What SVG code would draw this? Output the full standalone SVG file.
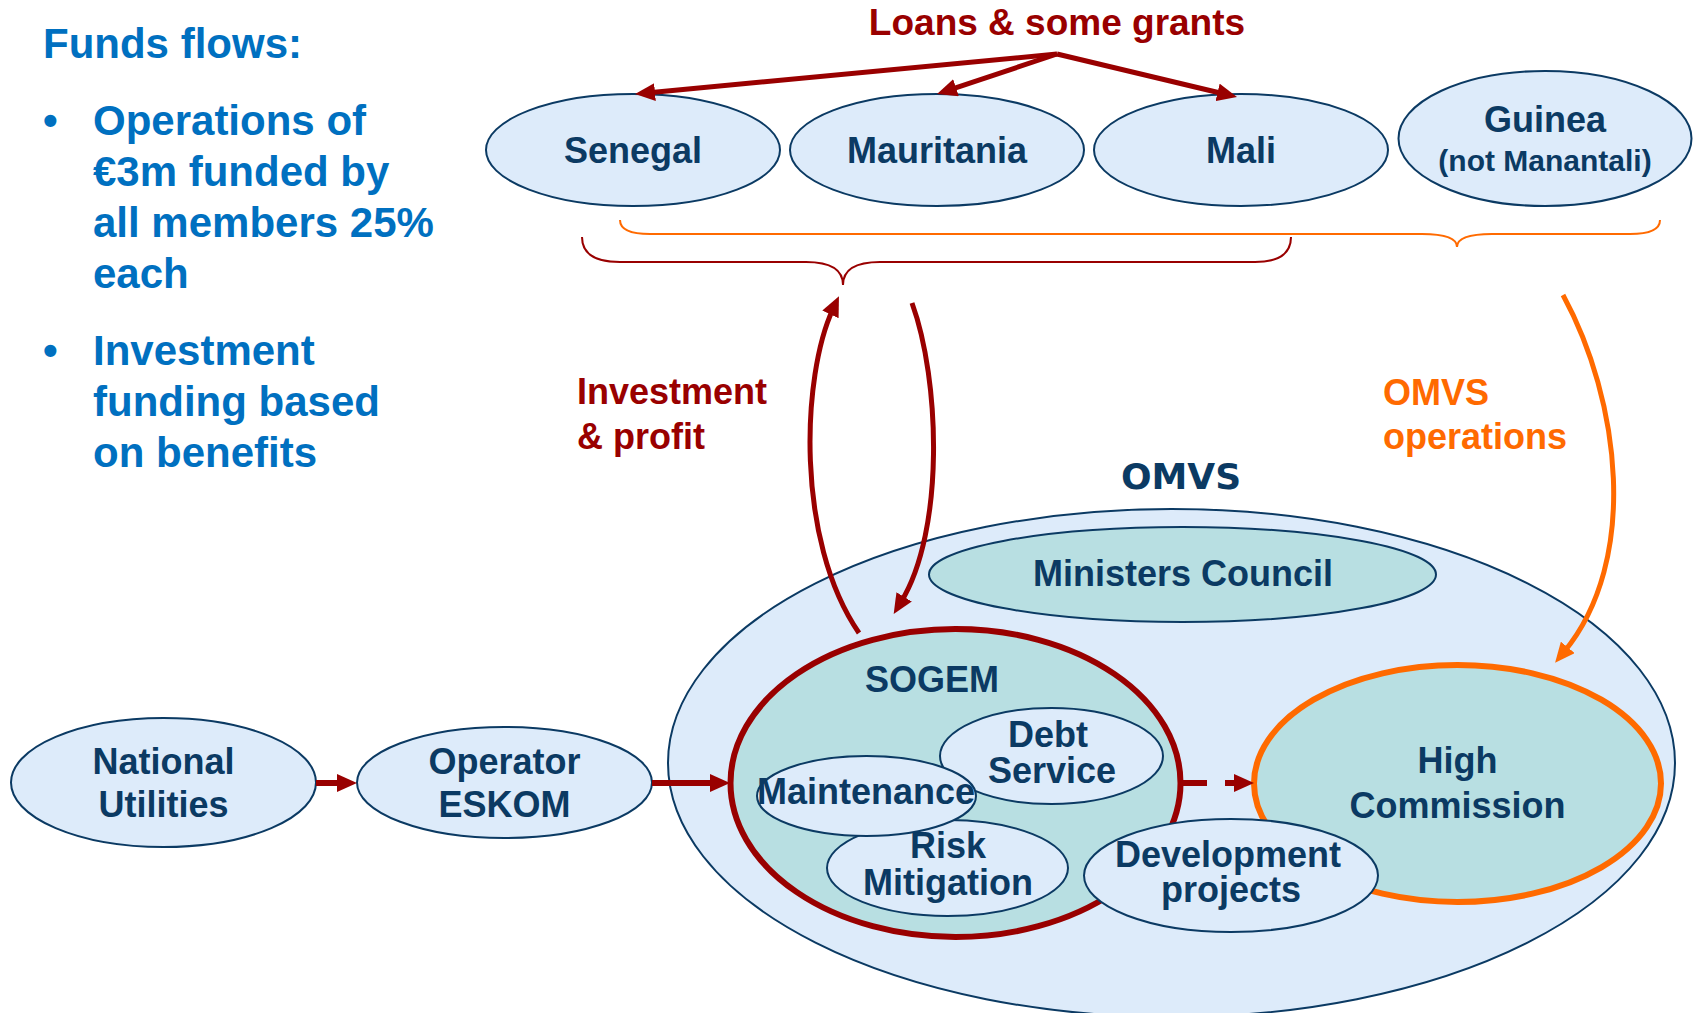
<svg xmlns="http://www.w3.org/2000/svg" width="1698" height="1013" viewBox="0 0 1698 1013">
<style>
  text { font-family: "Liberation Sans", Arial, sans-serif; font-weight: bold; }
  .side { fill: #0070C0; font-size: 42px; }
  .nt { fill: #0B3A63; font-size: 36px; text-anchor: middle; }
  .blue { fill: #DDEBFA; stroke: #0B3A63; stroke-width: 2; }
  .teal { fill: #B8DFE2; stroke: #0B3A63; stroke-width: 2; }
  .red { fill: #990000; font-size: 36px; }
  .org { fill: #FF6A00; font-size: 36px; }
  .rl { fill: none; stroke: #990000; }
  .ol { fill: none; stroke: #FF6A00; }
</style>
<defs>
  <marker id="ahRed" markerUnits="userSpaceOnUse" markerWidth="20" markerHeight="18" refX="6" refY="9" orient="auto">
    <path d="M0,0 L20,9 L0,18 z" fill="#990000"/>
  </marker>
  <marker id="ahRedS" markerUnits="userSpaceOnUse" markerWidth="20" markerHeight="18" refX="6" refY="9" orient="auto">
    <path d="M0,0 L20,9 L0,18 z" fill="#990000"/>
  </marker>
  <marker id="ahOrg" markerUnits="userSpaceOnUse" markerWidth="20" markerHeight="18" refX="6" refY="9" orient="auto">
    <path d="M0,0 L20,9 L0,18 z" fill="#FF6A00"/>
  </marker>
</defs>

<g id="funds-text">
  <text class="side" x="43" y="58">Funds flows:</text>
  <text class="side" x="43" y="135">•</text>
  <text class="side" x="93" y="135">Operations of</text>
  <text class="side" x="93" y="186">€3m funded by</text>
  <text class="side" x="93" y="237">all members 25%</text>
  <text class="side" x="93" y="288">each</text>
  <text class="side" x="43" y="365">•</text>
  <text class="side" x="93" y="365">Investment</text>
  <text class="side" x="93" y="416">funding based</text>
  <text class="side" x="93" y="467">on benefits</text>
</g>

<g id="label-loans"><text class="red" x="1057" y="35" text-anchor="middle" style="font-size:37px">Loans &amp; some grants</text></g>
<g id="label-investment">
  <text class="red" x="577" y="404">Investment</text>
  <text class="red" x="577" y="449">&amp; profit</text>
</g>
<g id="label-operations">
  <text class="org" x="1383" y="405">OMVS</text>
  <text class="org" x="1383" y="449">operations</text>
</g>

<g id="senegal"><ellipse class="blue" cx="633" cy="150" rx="147" ry="56"/><text class="nt" x="633" y="163">Senegal</text></g>
<g id="mauritania"><ellipse class="blue" cx="937" cy="150" rx="147" ry="56"/><text class="nt" x="937" y="163">Mauritania</text></g>
<g id="mali"><ellipse class="blue" cx="1241" cy="150" rx="147" ry="56"/><text class="nt" x="1241" y="163">Mali</text></g>
<g id="guinea"><ellipse class="blue" cx="1545" cy="138.5" rx="146.5" ry="67.5"/><text class="nt" x="1545" y="132">Guinea</text><text class="nt" x="1545" y="171" style="font-size:30px">(not Manantali)</text></g>

<g id="braces">
  <path class="ol" stroke-width="2" d="M620,220 Q620,234 650,234 L1422,234 Q1457,234 1457,247 Q1457,234 1492,234 L1630,234 Q1660,234 1660,220"/>
  <path class="rl" stroke-width="2" d="M582,237 Q582,262 620,262 L806,262 Q843,262 843,285 Q843,262 880,262 L1255,262 Q1291,262 1291,237"/>
</g>

<g id="omvs">
  <ellipse class="blue" cx="1171.5" cy="763" rx="503.5" ry="254" stroke-width="1.5"/>
  <text x="1181" y="489" text-anchor="middle" style="font-family:'DejaVu Sans',Verdana,sans-serif;font-size:36px;fill:#0B3A63">OMVS</text>
</g>
<g id="ministers-council"><ellipse class="teal" cx="1182.5" cy="574.5" rx="253.5" ry="47.5"/><text class="nt" x="1183" y="586">Ministers Council</text></g>
<g id="sogem"><ellipse cx="955.5" cy="783" rx="225" ry="154" fill="#B8DFE2" stroke="#990000" stroke-width="6"/><text class="nt" x="932" y="692">SOGEM</text></g>
<g id="debt-service"><ellipse class="blue" cx="1051.5" cy="756" rx="111.5" ry="48"/><text class="nt" x="1048" y="747">Debt</text><text class="nt" x="1052" y="783">Service</text></g>
<g id="risk-mitigation"><ellipse class="blue" cx="947.5" cy="868" rx="120.5" ry="48"/><text class="nt" x="948" y="858">Risk</text><text class="nt" x="948" y="895">Mitigation</text></g>
<g id="maintenance"><ellipse class="blue" cx="866.5" cy="796" rx="109.5" ry="40"/><text class="nt" x="866" y="804">Maintenance</text></g>
<g id="high-commission"><ellipse cx="1457.5" cy="783.5" rx="203.5" ry="118.5" fill="#B8DFE2" stroke="#FF6A00" stroke-width="6"/><text class="nt" x="1457.5" y="773">High</text><text class="nt" x="1457.5" y="818">Commission</text></g>
<g id="development-projects"><ellipse class="blue" cx="1231" cy="875.5" rx="147" ry="56.5"/><text class="nt" x="1228" y="867">Development</text><text class="nt" x="1231" y="902">projects</text></g>
<g id="national-utilities"><ellipse class="blue" cx="163.5" cy="782.5" rx="152.5" ry="64.5"/><text class="nt" x="163.5" y="774">National</text><text class="nt" x="163.5" y="817">Utilities</text></g>
<g id="operator-eskom"><ellipse class="blue" cx="504.5" cy="782.5" rx="147.5" ry="55.5"/><text class="nt" x="504.5" y="774">Operator</text><text class="nt" x="504.5" y="817">ESKOM</text></g>

<g id="connectors">
  <line class="rl" stroke-width="5" x1="1057" y1="54" x2="649" y2="92.7" marker-end="url(#ahRed)"/>
  <line class="rl" stroke-width="5" x1="1057" y1="54" x2="950.3" y2="89.6" marker-end="url(#ahRed)"/>
  <line class="rl" stroke-width="5" x1="1057" y1="54" x2="1223.4" y2="93.8" marker-end="url(#ahRed)"/>
  <path class="rl" stroke-width="5" d="M859,633 C795,540 802,375 833,309" marker-end="url(#ahRedS)"/>
  <path class="rl" stroke-width="5" d="M912,303 C940,380 945,530 901,602" marker-end="url(#ahRedS)"/>
  <path class="ol" stroke-width="5" d="M1563,295 C1620,400 1640,560 1564,652" marker-end="url(#ahOrg)"/>
  <line class="rl" stroke-width="6" x1="316" y1="783" x2="343" y2="783" marker-end="url(#ahRed)"/>
  <line class="rl" stroke-width="6" x1="652" y1="783" x2="716" y2="783" marker-end="url(#ahRed)"/>
  <line class="rl" stroke-width="6" x1="1180" y1="783" x2="1240" y2="783" stroke-dasharray="27 18" marker-end="url(#ahRed)"/>
</g>
</svg>
